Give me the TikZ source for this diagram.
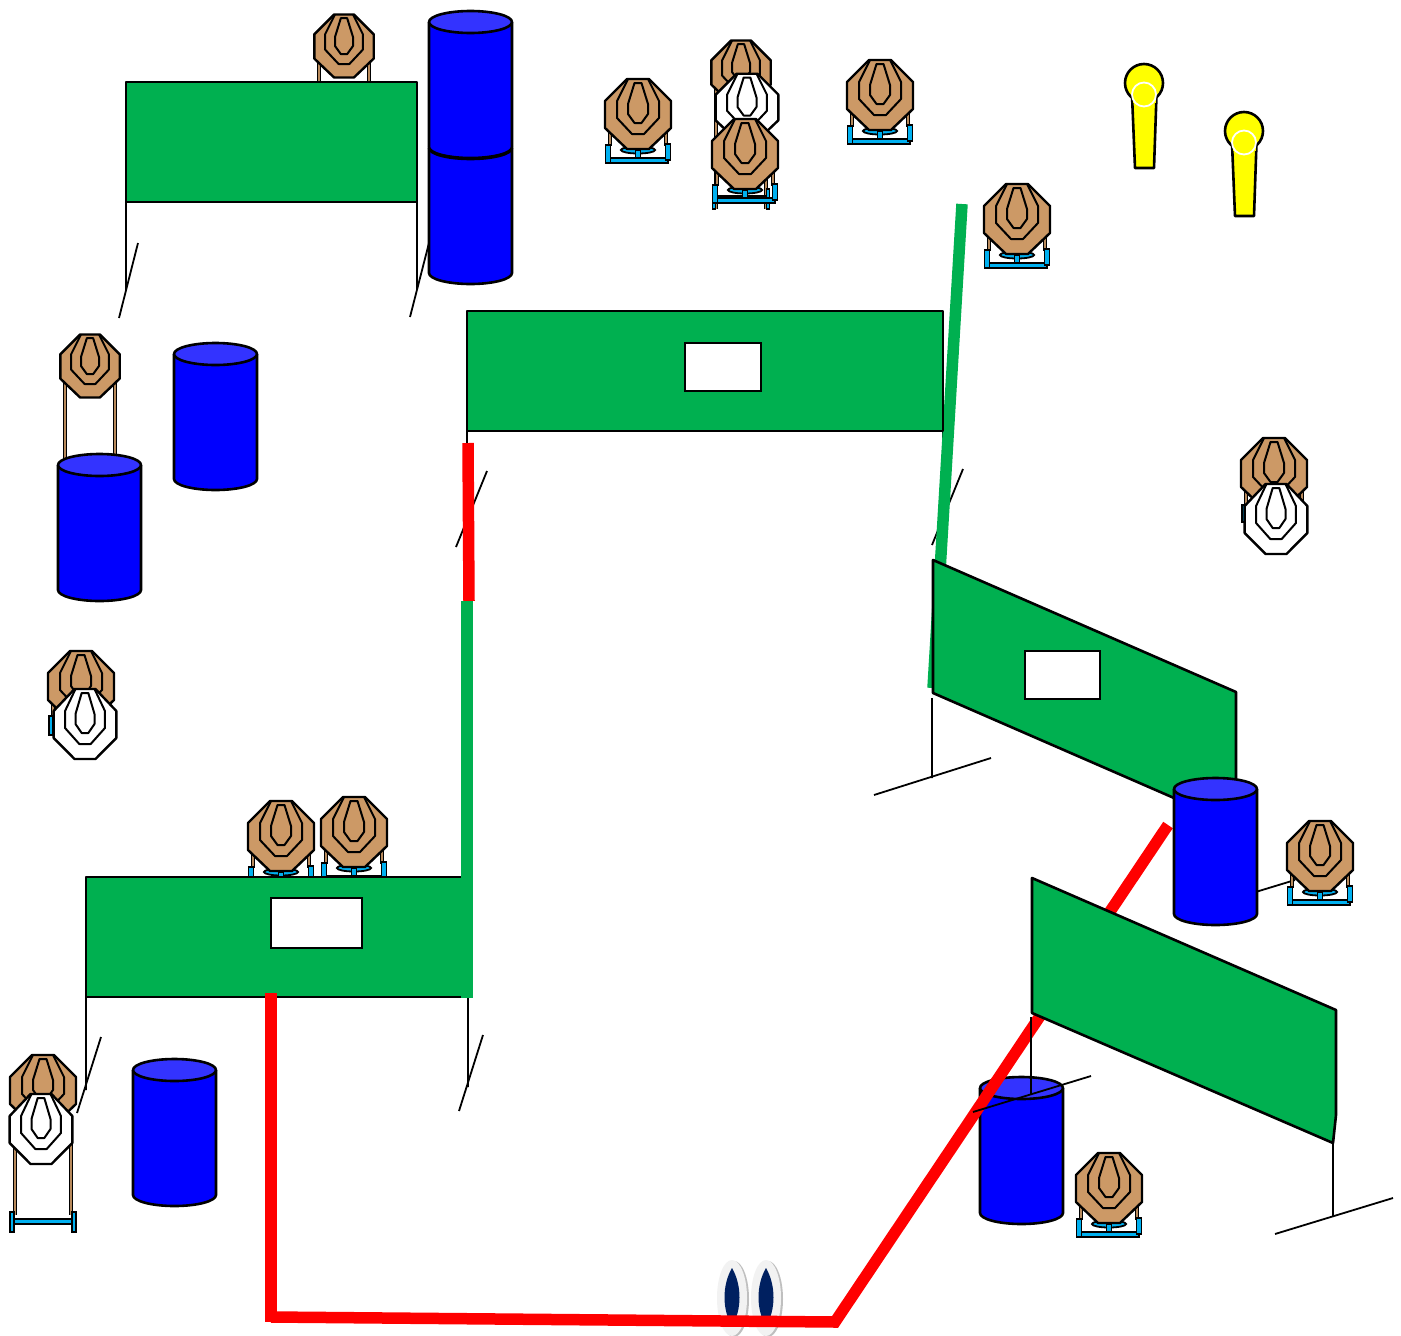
\documentclass[tikz,border=0pt]{standalone}
\usepackage{xcolor}
\usepackage{tikz}
\definecolor{wallgreen}{RGB}{0,176,80}
\definecolor{barrelblue}{RGB}{0,0,255}
\definecolor{barreltop}{RGB}{51,51,255}
\definecolor{targettan}{RGB}{204,153,102}
\definecolor{standcyan}{RGB}{0,176,240}
\definecolor{shoenavy}{RGB}{0,32,96}
\definecolor{shoegrey}{RGB}{242,242,242}
\definecolor{stickred}{RGB}{255,0,0}
\definecolor{popperyellow}{RGB}{255,255,0}
\newcommand{\barrel}[2]{%
  \fill[barrelblue] (#1-41.5,#2) -- (#1-41.5,#2+125) arc[start angle=180,end angle=360,x radius=41.5,y radius=-11]
    -- (#1+41.5,#2) -- cycle;
  \draw[heavy] (#1-41.5,#2) -- (#1-41.5,#2+125) arc[start angle=180,end angle=360,x radius=41.5,y radius=-11]
    -- (#1+41.5,#2);
  \draw[heavy, fill=barreltop] (#1,#2) ellipse[x radius=41.5,y radius=11];
}
\tikzset{
  heavy/.style={draw=black, line width=2.6pt, line join=round},
  facering/.style={draw=black, line width=2pt, line join=round},
  thinline/.style={draw=black, line width=1.8pt},
  wall/.style={heavy, fill=wallgreen},
  port/.style={draw=black, line width=2pt, fill=white},
  stick/.style={line width=11.5pt},
  pics/face/.style={code={
    \draw[facering, line width=2.4pt, fill=#1] (-11,-35) -- (11,-35) -- (33,-13) -- (33,14) -- (11,35)
      -- (-11,35) -- (-33,14) -- (-33,-13) -- cycle;
    \draw[facering] (-10,-35) -- (-21,-13) -- (-21,4) -- (-6,20) -- (6,20) -- (21,4) -- (21,-13) -- (10,-35);
    \draw[facering] (-3.5,-31) -- (3.5,-31) -- (10,-10) -- (10,0) -- (3.5,9) -- (-3.5,9) -- (-10,0) -- (-10,-10) -- cycle;
  }},
  pics/legs/.style={code={
    \foreach \side in {-28,28} {
      \draw[line width=3.6pt] (\side,0) -- (\side,#1);
      \draw[line width=1.6pt, targettan!90!black] (\side,0) -- (\side,#1);
    }
  }},
  pics/base/.style={code={
    \pic {legs=32};
    \draw[thinline, fill=standcyan] (0,36) ellipse[x radius=17,y radius=3.5];
    \draw[line width=1pt, fill=standcyan] (-2.5,36) rectangle (2.5,45);
    \draw[line width=1.2pt, fill=standcyan] (-30,44) rectangle (30,49);
    \draw[line width=1.2pt, fill=standcyan] (-32.5,31) rectangle (-27.5,49);
    \draw[line width=1.2pt, fill=standcyan] (27.5,30) rectangle (32.5,46);
  }},
  pics/lowbase/.style={code={
    \draw[line width=1.2pt, fill=standcyan] (-31,-3) rectangle (31,2);
    \draw[line width=1.2pt, fill=standcyan] (-33,-10) rectangle (-29,10);
    \draw[line width=1.2pt, fill=standcyan] (29,-10) rectangle (33,10);
  }}
}
\begin{document}
\begin{tikzpicture}[x=1pt, y=-1pt]
\useasboundingbox (0,0) rectangle (1401,1336);
\fill[white] (0,0) rectangle (1401,1336);

% shoes
\foreach \shoex in {732,766} {
  \fill[black!25] (\shoex+2,1299) ellipse[x radius=15,y radius=38];
  \fill[shoegrey] (\shoex,1298) ellipse[x radius=15,y radius=38];
  \fill[shoenavy] (\shoex,1268) .. controls (\shoex+10,1285) and (\shoex+10,1310) .. (\shoex,1326)
    .. controls (\shoex-10,1310) and (\shoex-10,1285) .. (\shoex,1268) -- cycle;
}

% top left wall
\pic[scale=.9] at (344,46) {legs=42};
\pic[scale=.9] at (344,46) {face=targettan};
\draw[thinline] (126,202) -- (126,290) (119,318) -- (138,243);
\draw[thinline] (417,202) -- (417,290) (410,317) -- (429,243);
\draw[wall] (126,82) rectangle (417,202);
\barrel{470.5}{148}
\barrel{470.5}{22}

% top targets
\pic at (638,114) {base};
\pic at (638,114) {face=targettan};
\pic[scale=.9] at (741,72) {legs=152};
\pic[xscale=.87] at (741,199) {lowbase};
\pic[scale=.9] at (741,72) {face=targettan};
\pic[scale=.95] at (747,107) {face=white};
\pic at (745,154) {base};
\pic at (745,154) {face=targettan};
\pic at (880,95) {base};
\pic at (880,95) {face=targettan};
\pic at (1017,219) {base};
\pic at (1017,219) {face=targettan};

% poppers
\foreach \popx/\popy in {1144/83,1244/131} {
  \draw[heavy, fill=popperyellow] (\popx,\popy) circle[radius=19];
  \draw[heavy, fill=popperyellow] (\popx-12,\popy+12) -- (\popx-9,\popy+85) -- (\popx+10,\popy+85) -- (\popx+12.5,\popy+12);
  \fill[popperyellow] (\popx-11,\popy+8) rectangle (\popx+11.5,\popy+20);
  \draw[white, line width=1.8pt] (\popx,\popy+11.5) circle[radius=12];
}

% middle and right wall
\draw[thinline] (467,431) -- (467,520) (456,547) -- (487,471);
\draw[thinline] (943,431) -- (943,520) (932,545) -- (963,469);
\draw[wallgreen, stick] (962,204) -- (933,688);
\draw[wall] (467,311) rectangle (943,431);
\draw[port] (685,343) rectangle (761,391);
\draw[thinline] (932,698) -- (932,778) (874,795) -- (991,758);
\draw[thinline] (1236,825) -- (1236,905) (1190,912) -- (1295,880);
\draw[wall] (933,560) -- (1236,692) -- (1236,825) -- (933,693) -- cycle;
\draw[port] (1025,651) rectangle (1100,699);
\draw[stickred, stick] (468,443) -- (469,601);
\draw[wallgreen, stick] (467,601) -- (467,998);

% left targets and barrels
\barrel{215.5}{354}
\pic[scale=.9] at (90,366) {legs=110};
\pic[scale=.9] at (90,366) {face=targettan};
\barrel{99.5}{465}
\pic at (81,686) {legs=30};
\draw[line width=1.2pt, fill=standcyan] (49,716) rectangle (53,735);
\pic at (81,686) {face=targettan};
\pic[xscale=.95] at (85,724) {face=white};

% bottom left wall
\pic at (281,836) {base};
\pic at (281,836) {face=targettan};
\pic at (354,832) {base};
\pic at (354,832) {face=targettan};
\draw[thinline] (86,997) -- (86,1090) (77,1113) -- (101,1037);
\draw[thinline] (468,997) -- (468,1087) (459,1111) -- (483,1035);
\draw[wall] (86,877) rectangle (467,997);
\draw[port] (271,898) rectangle (362,948);
\draw[wallgreen, stick] (467,870) -- (467,998);

\pic at (43,1125) {legs=90};
\pic at (43,1222) {lowbase};
\pic at (43,1090) {face=targettan};
\pic[xscale=.95] at (41,1129) {face=white};
\barrel{174.5}{1070}

% bottom right
\barrel{1021.5}{1088}
\pic at (1109,1188) {base};
\pic at (1109,1188) {face=targettan};
\draw[stickred, stick] (271,993) -- (271,1322);
\draw[stickred, stick, line join=miter] (271,1317) -- (835,1322) -- (1168,825);
\barrel{1215.5}{789}
\pic at (1320,856) {base};
\pic at (1320,856) {face=targettan};
\draw[thinline] (1031,1017) -- (1031,1095) (973,1112) -- (1091,1076);
\draw[thinline] (1333,1143) -- (1333,1217) (1275,1234) -- (1393,1198);
\draw[wall] (1032,878) -- (1336,1010) -- (1336,1115) -- (1333,1143) -- (1032,1013) -- cycle;

% target behind white one
\pic at (1274,473) {legs=32};
\draw[line width=1.2pt, fill=standcyan] (1242,505) rectangle (1246,522);
\pic at (1274,473) {face=targettan};
\pic[xscale=.95] at (1276,519) {face=white};
\end{tikzpicture}
\end{document}
